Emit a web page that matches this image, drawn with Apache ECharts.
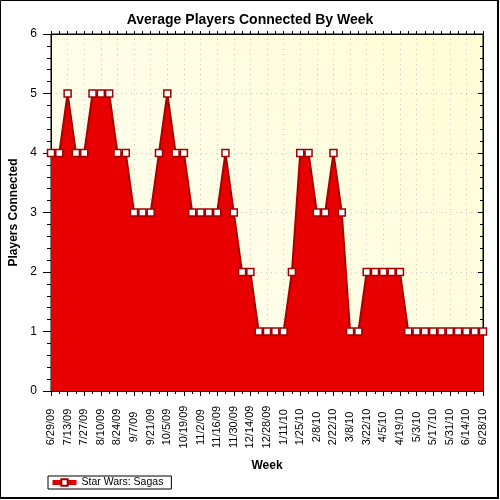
<!DOCTYPE html>
<html>
<head>
<meta charset="utf-8">
<script src="https://cdn.jsdelivr.net/npm/echarts@6/dist/echarts.min.js"></script>
<style>
  html, body { margin: 0; padding: 0; background: #fff; }
  #chart { width: 500px; height: 500px; }
</style>
</head>
<body>
<div id="chart"></div>
<script>
// weekly averages, 6/29/09 .. 6/28/10
const weeks = [
  '6/29/09','7/6/09','7/13/09','7/20/09','7/27/09','8/3/09','8/10/09','8/17/09','8/24/09','8/31/09',
  '9/7/09','9/14/09','9/21/09','9/28/09','10/5/09','10/12/09','10/19/09','10/26/09','11/2/09','11/9/09',
  '11/16/09','11/23/09','11/30/09','12/7/09','12/14/09','12/21/09','12/28/09','1/4/10','1/11/10','1/18/10',
  '1/25/10','2/1/10','2/8/10','2/15/10','2/22/10','3/1/10','3/8/10','3/15/10','3/22/10','3/29/10',
  '4/5/10','4/12/10','4/19/10','4/26/10','5/3/10','5/10/10','5/17/10','5/24/10','5/31/10','6/7/10',
  '6/14/10','6/21/10','6/28/10'
]
const players = [
  4,4,5,4,4,5,5,5,4,4,
  3,3,3,4,5,4,4,3,3,3,
  3,4,3,2,2,1,1,1,1,2,
  4,4,3,3,4,3,1,1,2,2,
  2,2,2,1,1,1,1,1,1,1,
  1,1,1
]
const seriesName = 'Star Wars: Sagas'

const font = 'Liberation Sans, Arial, sans-serif'
const black = { color: '#000' }
const chart = echarts.init(document.getElementById('chart'))
chart.setOption({
  backgroundColor: '#fff',
  animation: false,
  title: {
    text: 'Average Players Connected By Week',
    left: 'center',
    top: 8,
    textStyle: { fontFamily: font, fontSize: 14, fontWeight: 'bold', color: '#000' }
  },
  // outer frame, heavier on right and bottom
  graphic: [{
    type: 'rect',
    shape: { x: 0.5, y: 0.5, width: 498, height: 498 },
    style: { fill: 'none', stroke: '#000', lineWidth: 1 },
    z: 100
  }, {
    type: 'polyline',
    shape: { points: [[498, 0], [498, 498], [0, 498]] },
    style: { fill: 'none', stroke: '#000', lineWidth: 2 },
    z: 100
  }],
  legend: {
    left: 48,
    top: 476,
    padding: [1, 8, 1, 2],
    borderColor: '#000',
    borderWidth: 1,
    itemWidth: 24,
    itemHeight: 8,
    textStyle: { fontFamily: font, fontSize: 10.5, color: '#000' },
    lineStyle: { color: '#E00000', width: 5 },
    data: [seriesName]
  },
  grid: {
    left: 51, right: 17, top: 34, bottom: 109,
    outerBoundsMode: 'none',
    containLabel: false,
    show: true,
    borderColor: '#000',
    borderWidth: 1,
    backgroundColor: new echarts.graphic.LinearGradient(0, 1, 1, 0, [
      { offset: 0, color: '#FFFFF2' },
      { offset: 1, color: '#FFFCD6' }
    ])
  },
  xAxis: [{
    type: 'category',
    data: weeks,
    boundaryGap: false,
    name: 'Week',
    nameLocation: 'middle',
    nameGap: 69,
    nameTextStyle: { fontFamily: font, fontSize: 12, fontWeight: 'bold', color: '#000' },
    axisLine: { lineStyle: black },
    axisTick: { interval: 1, length: 5, lineStyle: black },
    axisLabel: {
      interval: 1, rotate: 90, align: 'center', margin: 36,
      fontFamily: font, fontSize: 11, color: '#000'
    },
    splitLine: { show: true, interval: 1, lineStyle: { color: '#C8C8C8', type: [1, 4] } }
  }, {
    type: 'category',
    data: weeks,
    boundaryGap: false,
    position: 'bottom',
    axisLine: { show: false },
    axisTick: { interval: 0, length: 3, lineStyle: black },
    axisLabel: { show: false },
    splitLine: { show: false }
  }, {
    type: 'category',
    data: weeks,
    boundaryGap: false,
    position: 'top',
    axisLine: { show: true, lineStyle: black },
    axisTick: { interval: 0, length: 3, lineStyle: black },
    axisLabel: { show: false },
    splitLine: { show: false }
  }],
  yAxis: [{
    type: 'value',
    min: 0, max: 6, interval: 1,
    name: 'Players Connected',
    nameLocation: 'middle',
    nameGap: 30,
    nameTextStyle: { fontFamily: font, fontSize: 12, fontWeight: 'bold', color: '#000' },
    axisLine: { show: true, lineStyle: black },
    axisTick: { show: true, length: 8, lineStyle: black },
    minorTick: { show: true, splitNumber: 5, length: 4, lineStyle: black },
    axisLabel: { margin: 14, fontFamily: font, fontSize: 12, color: '#000' },
    splitLine: { show: true, lineStyle: { color: '#C8C8C8', type: [1, 4] } }
  }, {
    type: 'value',
    min: 0, max: 6, interval: 1,
    position: 'right',
    axisLine: { show: true, lineStyle: black },
    axisTick: { show: true, inside: true, length: 5, lineStyle: black },
    minorTick: { show: true, splitNumber: 5, length: 3, lineStyle: black },
    axisLabel: { show: false },
    splitLine: { show: false }
  }],
  series: [{
    name: seriesName,
    type: 'line',
    data: players,
    symbol: 'rect',
    symbolSize: 7,
    showAllSymbol: true,
    lineStyle: { color: '#A80000', width: 2 },
    itemStyle: { color: '#fff', borderColor: '#A00000', borderWidth: 1.5 },
    areaStyle: { color: '#E80000', opacity: 1 },
    z: 3
  }]
})
</script>
</body>
</html>
